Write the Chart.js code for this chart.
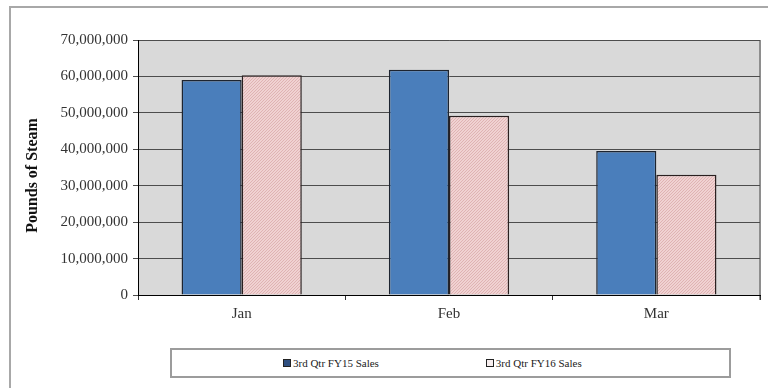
<!DOCTYPE html>
<html>
<head>
<meta charset="utf-8">
<script src="https://cdn.jsdelivr.net/npm/chart.js@4.4.1/dist/chart.umd.min.js"></script>
<style>
  html, body { margin: 0; padding: 0; background: #fff; }
  #wrap { position: relative; width: 768px; height: 388px; overflow: hidden; }
  #frame {
    position: absolute; left: 9px; top: 6px; width: 760px; height: 384px;
    border-left: 2px solid #a8a8a8; border-top: 2px solid #a8a8a8;
  }
  #chart { position: absolute; left: 0; top: 0; }
  #legend {
    position: absolute; left: 170px; top: 348px; width: 561px; height: 30px;
    box-sizing: border-box; border: 2px solid #9c9c9c; background: #fff;
    display: flex; align-items: center; padding-left: 111px; gap: 107px;
    font-family: "Liberation Serif", serif; font-size: 11px; color: #222;
  }
  #legend .item { display: flex; align-items: center; }
  #legend .sw { width: 6px; height: 6px; border: 1px solid #222; margin-right: 2px; }
</style>
</head>
<body>
<div id="wrap">
  <div id="frame"></div>
  <canvas id="chart" width="768" height="388"></canvas>
  <div id="legend"></div>
</div>
<script>
// monthly steam sales, pounds
const months = ['Jan', 'Feb', 'Mar'];
const fy15Sales = [59000000, 61800000, 39500000];
const fy16Sales = [60300000, 49200000, 33000000];
const seriesNames = ['3rd Qtr FY15 Sales', '3rd Qtr FY16 Sales'];
const yTickValues = [0, 10000000, 20000000, 30000000, 40000000, 50000000, 60000000, 70000000];
const yTitle = 'Pounds of Steam';

// dotted pink fill for the FY16 bars
function dotPattern() {
    const c = document.createElement('canvas');
    c.width = 3; c.height = 3;
    const g = c.getContext('2d');
    g.fillStyle = '#f0d2d2';
    g.fillRect(0, 0, 3, 3);
    g.fillStyle = '#dfb3b3';
    g.fillRect(0, 0, 1, 1);
    g.fillRect(2, 1, 1, 1);
    g.fillRect(1, 2, 1, 1);
    return g.createPattern(c, 'repeat');
}

// grey plot area with a light frame on top/right
const plotFrame = {
    id: 'plotFrame',
    beforeDraw(chart) {
        const { ctx, chartArea: a } = chart;
        ctx.save();
        ctx.fillStyle = '#d9d9d9';
        ctx.fillRect(a.left, a.top, a.width, a.height);
        ctx.strokeStyle = '#8e8e8e';
        ctx.lineWidth = 1;
        ctx.beginPath();
        ctx.moveTo(a.left, a.top + 0.5);
        ctx.lineTo(a.right - 0.5, a.top + 0.5);
        ctx.stroke();
        ctx.lineWidth = 2;
        ctx.beginPath();
        ctx.moveTo(a.right, a.top);
        ctx.lineTo(a.right, a.bottom + 5);
        ctx.stroke();
        ctx.restore();
    },
    // rotated y title, sitting a little below the plot's middle
    afterDraw(chart) {
        const { ctx, chartArea: a } = chart;
        ctx.save();
        ctx.translate(33, (a.top + a.bottom) / 2 + 8);
        ctx.rotate(-Math.PI / 2);
        ctx.font = 'bold 16px "Liberation Serif", serif';
        ctx.fillStyle = '#111';
        ctx.textAlign = 'center';
        ctx.textBaseline = 'middle';
        ctx.fillText(yTitle, 0, 0);
        ctx.restore();
    }
};

const serif = 'Liberation Serif, serif';

const chart = new Chart(document.getElementById('chart'), {
    type: 'bar',
    data: {
        labels: months,
        datasets: [
            { label: seriesNames[0], data: fy15Sales, backgroundColor: '#4a7ebb', borderColor: '#1d2430', borderWidth: 1.5 },
            { label: seriesNames[1], data: fy16Sales, backgroundColor: dotPattern(), borderColor: '#2a2020', borderWidth: 1.5 }
        ]
    },
    options: {
        responsive: false,
        animation: false,
        layout: { padding: { left: 45, right: 8, top: 40, bottom: 63 } },
        datasets: { bar: { categoryPercentage: 0.58, barPercentage: 1.0 } },
        plugins: { legend: { display: false }, tooltip: { enabled: false } },
        scales: {
            x: {
                grid: { drawOnChartArea: false, offset: true, tickLength: 5, color: '#333' },
                border: { color: '#000', width: 1 },
                ticks: { color: '#333', padding: 5, font: { family: serif, size: 15 } },
                afterFit: s => { s.height = 30; }
            },
            y: {
                min: 0, max: 70000000,
                afterBuildTicks: s => { s.ticks = yTickValues.map(v => ({ value: v })); },
                grid: { color: '#4d4d4d', tickLength: 5, lineWidth: 1 },
                border: { color: '#000', width: 1 },
                ticks: {
                    color: '#333', padding: 5, font: { family: serif, size: 15 },
                    callback: v => v.toLocaleString('en-US')
                },
                afterFit: s => { s.width = 93; }
            }
        }
    },
    plugins: [plotFrame]
});

// legend box under the plot
const legend = document.getElementById('legend');
const swatches = ['#2f4f80', '#f7eeee'];
chart.data.datasets.forEach((ds, i) => {
    const item = document.createElement('div');
    item.className = 'item';
    const sw = document.createElement('span');
    sw.className = 'sw';
    sw.style.background = swatches[i];
    const txt = document.createElement('span');
    txt.textContent = ds.label;
    item.appendChild(sw);
    item.appendChild(txt);
    legend.appendChild(item);
});
</script>
</body>
</html>
